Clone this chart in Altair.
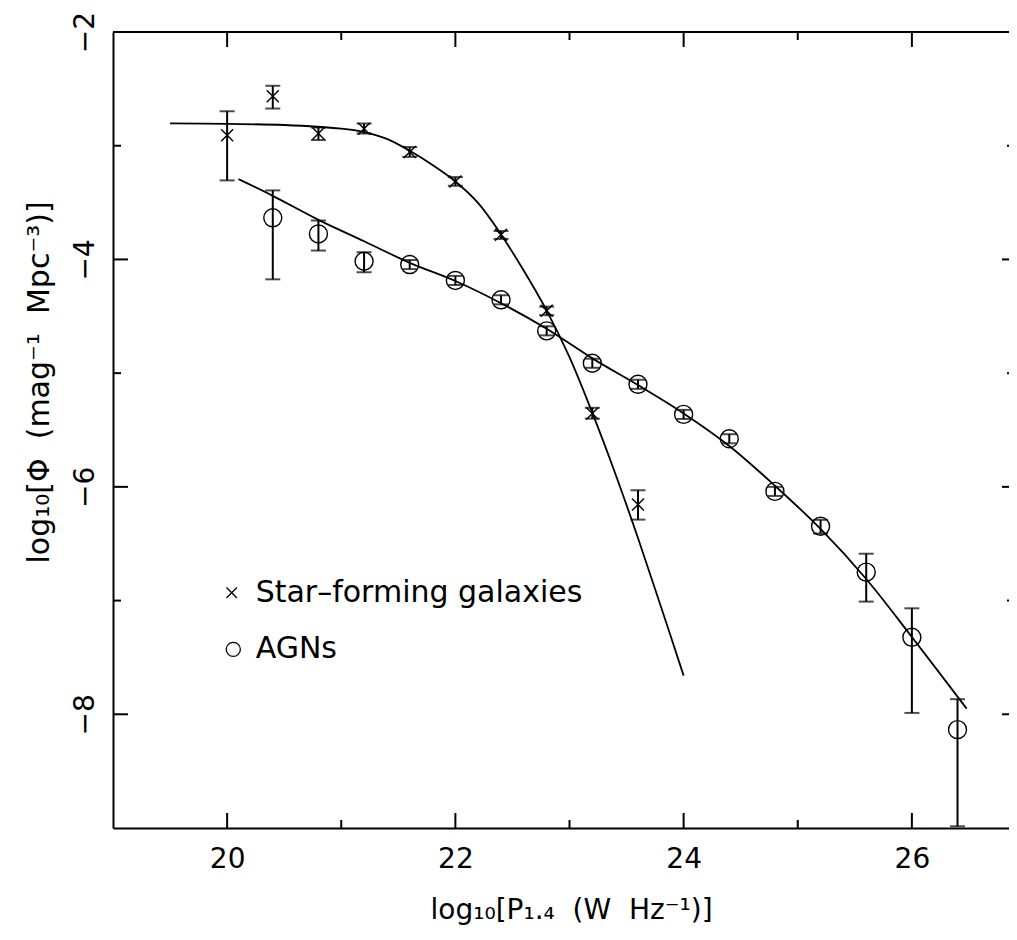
import altair as alt
import pandas as pd

# ---------------- data ----------------
# Star-forming galaxies (crosses) with error bars
sf_x = [20.0, 20.4, 20.8, 21.2, 21.6, 22.0, 22.4, 22.8, 23.2, 23.6]
sf_y = [-2.908, -2.564, -2.893, -2.850, -3.055, -3.314, -3.784, -4.452, -5.354, -6.156]
sf_lo = [-3.305, -2.673, -2.950, -2.893, -3.098, -3.352, -3.820, -4.490, -5.400, -6.288]
sf_hi = [-2.697, -2.473, -2.840, -2.805, -3.012, -3.276, -3.750, -4.415, -5.305, -6.030]

# AGNs (circles) with error bars
agn_x = [20.4, 20.8, 21.2, 21.6, 22.0, 22.4, 22.8, 23.2, 23.6, 24.0, 24.4, 24.8, 25.2, 25.6, 26.0, 26.4]
agn_y = [-3.634, -3.776, -4.016, -4.045, -4.185, -4.355, -4.628, -4.913, -5.098, -5.363,
         -5.577, -6.040, -6.347, -6.750, -7.323, -8.135]
agn_lo = [-4.175, -3.922, -4.113, -4.085, -4.225, -4.395, -4.668, -4.953, -5.138, -5.403,
          -5.617, -6.080, -6.410, -7.009, -7.988, -8.985]
agn_hi = [-3.393, -3.658, -3.937, -4.005, -4.145, -4.315, -4.588, -4.873, -5.058, -5.323,
          -5.537, -6.000, -6.290, -6.588, -7.068, -7.867]

# fitted curves (sampled from the figure)
sf_curve_x = [19.5, 20.0, 20.5, 21.0, 21.2, 21.4, 21.6, 21.8, 22.0, 22.2, 22.4, 22.6,
              22.8, 23.0, 23.2, 23.4, 23.6, 23.8, 24.0]
sf_curve_y = [-2.803, -2.808, -2.818, -2.850, -2.880, -2.940, -3.045, -3.170, -3.315, -3.505,
              -3.780, -4.100, -4.450, -4.860, -5.350, -5.880, -6.450, -7.050, -7.660]
agn_curve_x = [20.1, 20.4, 20.8, 21.2, 21.6, 22.0, 22.4, 22.8, 23.2, 23.6, 24.0, 24.4,
               24.8, 25.2, 25.6, 26.0, 26.48]
agn_curve_y = [-3.294, -3.441, -3.652, -3.840, -4.030, -4.190, -4.385, -4.610, -4.870, -5.105,
               -5.354, -5.640, -5.990, -6.370, -6.810, -7.320, -7.950]

# legend entries
legend_labels = ["Star\u2013forming galaxies", "AGNs"]

# axis ticks
x_major = [20, 22, 24, 26]
x_minor = [21, 23, 25]
y_major = [-8, -6, -4]
y_minor = [-7, -5, -3]

# ---------------- layout constants ----------------
W, H = 896, 796
MAJ, MIN = 15, 8
FONT = "DejaVu Sans"
XSHAPE = "M-1,-1L1,1M-1,1L1,-1"
SP = "\u00a0\u00a0"

xscale = alt.Scale(domain=[19, 19 + W / 114.125], nice=False, zero=False)
yscale = alt.Scale(domain=[-9, -2], nice=False, zero=False)

x_axis = alt.Axis(
    values=x_major, format="d", ticks=False, grid=False,
    domain=True, domainColor="black", domainWidth=2,
    labelFont=FONT, labelFontSize=28, labelColor="black", labelPadding=17,
    labelFlush=False, labelOverlap=False,
    title=f"log\u2081\u2080[P\u2081.\u2084{SP}(W{SP}Hz\u207b\u00b9)]",
    titleFont=FONT, titleFontSize=28, titleFontWeight="normal", titleColor="black",
    titleAlign="left", titleBaseline="alphabetic", titleX=317, titleY=90,
)
y_axis = alt.Axis(
    values=[-8, -6, -4, -2], format="d", ticks=False, grid=False,
    domain=True, domainColor="black", domainWidth=2,
    labelFont=FONT, labelFontSize=28, labelColor="black", labelPadding=20,
    labelAngle=270, labelAlign="center", labelBaseline="alphabetic",
    labelFlush=False, labelOverlap=False,
    title=f"log\u2081\u2080[\u03a6{SP}(mag\u207b\u00b9{SP}Mpc\u207b\u00b3)]",
    titleFont=FONT, titleFontSize=30, titleFontWeight="normal", titleColor="black",
    titleAngle=270, titleAlign="left", titleBaseline="alphabetic", titleX=-65, titleY=531,
)

sf = pd.DataFrame({"x": sf_x, "y": sf_y, "lo": sf_lo, "hi": sf_hi})
agn = pd.DataFrame({"x": agn_x, "y": agn_y, "lo": agn_lo, "hi": agn_hi})
sfc = pd.DataFrame({"x": sf_curve_x, "y": sf_curve_y})
agnc = pd.DataFrame({"x": agn_curve_x, "y": agn_curve_y})


def X(field="x"):
    return alt.X(f"{field}:Q", scale=xscale, axis=x_axis)


def Y(field="y"):
    return alt.Y(f"{field}:Q", scale=yscale, axis=y_axis)


# curves
sf_line = alt.Chart(sfc).mark_line(color="black", strokeWidth=1.8, interpolate="catmull-rom").encode(
    x=X(), y=Y())
agn_line = alt.Chart(agnc).mark_line(color="black", strokeWidth=1.8, interpolate="catmull-rom").encode(
    x=X(), y=Y())


# error bars
def errbars(df):
    base = alt.Chart(df)
    bar = base.mark_rule(color="black", strokeWidth=2).encode(x=X(), y=Y("lo"), y2="hi:Q")
    cap_lo = base.mark_tick(color="black", orient="horizontal", size=15, thickness=2).encode(x=X(), y=Y("lo"))
    cap_hi = base.mark_tick(color="black", orient="horizontal", size=15, thickness=2).encode(x=X(), y=Y("hi"))
    return [bar, cap_lo, cap_hi]


sf_pts = alt.Chart(sf).mark_point(shape=XSHAPE, filled=False, color="black", strokeWidth=1.4,
                                  size=144, opacity=1).encode(x=X(), y=Y())
agn_pts = alt.Chart(agn).mark_point(shape="circle", filled=False, color="black", strokeWidth=1.4,
                                    size=324, opacity=1).encode(x=X(), y=Y())

# legend (inside plot)
leg = pd.DataFrame({
    "label": legend_labels,
    "sx": [20.04, 20.054],
    "sy": [-6.931, -7.429],
    "tx": [20.25, 20.25],
    "ty": [-7.010, -7.508],
})
leg_x = alt.Chart(leg.iloc[[0]]).mark_point(shape=XSHAPE, filled=False, color="black",
                                            strokeWidth=1.3, size=110, opacity=1).encode(
    x=X("sx"), y=Y("sy"))
leg_o = alt.Chart(leg.iloc[[1]]).mark_point(shape="circle", filled=False, color="black",
                                            strokeWidth=1.3, size=200, opacity=1).encode(
    x=X("sx"), y=Y("sy"))
leg_t = alt.Chart(leg).mark_text(font=FONT, fontSize=30, align="left", baseline="alphabetic",
                                 color="black").encode(x=X("tx"), y=Y("ty"), text="label:N")

# frame top and tick marks (inward)
top_frame = alt.Chart(pd.DataFrame({"v": [0]})).mark_rule(color="black", strokeWidth=2).encode(
    x=alt.value(0), x2=alt.value(W), y=alt.value(0))


def xticks(vals, length):
    b = alt.Chart(pd.DataFrame({"v": vals}))
    return [
        b.mark_rule(color="black", strokeWidth=2).encode(x=X("v"), y=alt.value(H), y2=alt.value(H - length)),
        b.mark_rule(color="black", strokeWidth=2).encode(x=X("v"), y=alt.value(0), y2=alt.value(length)),
    ]


def yticks(vals, length, right_len):
    b = alt.Chart(pd.DataFrame({"v": vals}))
    return [
        b.mark_rule(color="black", strokeWidth=2).encode(y=Y("v"), x=alt.value(0), x2=alt.value(length)),
        b.mark_rule(color="black", strokeWidth=2).encode(y=Y("v"), x=alt.value(W - right_len), x2=alt.value(W)),
    ]


layers = ([sf_line, agn_line] + errbars(sf) + errbars(agn)
          + [sf_pts, agn_pts, leg_x, leg_o, leg_t, top_frame]
          + xticks(x_major, MAJ) + xticks(x_minor, MIN) + yticks(y_major, MAJ, 7) + yticks(y_minor, MIN, 2))

chart = alt.layer(*layers).properties(
    width=W, height=H,
    autosize=alt.AutoSizeParams(type="none"),
    padding={"left": 105, "top": 24, "right": 0, "bottom": 104},
    background="white",
).configure_view(strokeWidth=0)

chart.save("out.html", embed_options={"renderer": "svg", "actions": False})
